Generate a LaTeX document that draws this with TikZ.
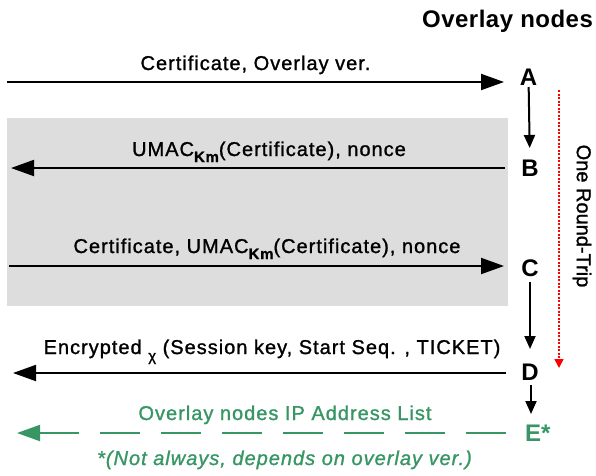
\documentclass[tikz,border=0pt]{standalone}
\usepackage{fontspec}
\setmainfont{Liberation Sans}
\newfontfamily\lblfont{Liberation Sans}[LetterSpace=5,FakeBold=1.2]
\newfontfamily\rtfont{Liberation Sans}[FakeBold=1.2]
\newfontfamily\ttlfont{Liberation Sans Bold}[LetterSpace=2]
\usetikzlibrary{arrows.meta}
\definecolor{ogreen}{RGB}{56,150,100}
\definecolor{ogray}{RGB}{221,221,221}
\begin{document}
\begin{tikzpicture}[x=1pt,y=-1pt,
  lbl/.style={font=\lblfont\fontsize{20}{24}\selectfont, anchor=base, inner sep=0pt},
  letter/.style={font=\fontsize{24}{28}\selectfont\bfseries, inner sep=0pt},
  harrow/.style={line width=2pt, -{Triangle[length=23pt,width=16pt]}},
  garrow/.style={ogreen, line width=2pt, dash pattern=on 40pt off 21pt, -{Triangle[length=23pt,width=16pt]}},
  varrow/.style={line width=2pt, -{Triangle[length=13pt,width=11pt]}},
  rarrow/.style={red, line width=1.6pt, dash pattern=on 2pt off 1.5pt, -{Triangle[length=9pt,width=9pt]}}]
\useasboundingbox (0,0) rectangle (596,475);
% grey band
\fill[ogray] (7,118) rectangle (508,306);
% title
\node[font=\ttlfont\fontsize{24}{28}\selectfont, anchor=base west, inner sep=0pt] (title) at (422,27) {Overlay nodes};
% node letters
\node[letter] (A) at (528.5,77) {A};
\node[letter] (B) at (530,168) {B};
\node[letter] (C) at (530,268) {C};
\node[letter] (D) at (530,372) {D};
\node[letter, text=ogreen, anchor=west] (E) at (525,433) {E*};
% endpoints
\coordinate (a0) at (7,82);   \coordinate (a1) at (504,82);
\coordinate (b0) at (505,168); \coordinate (b1) at (11,168);
\coordinate (c0) at (9,266);  \coordinate (c1) at (504,266);
\coordinate (d0) at (506,373); \coordinate (d1) at (13,373);
\coordinate (e0) at (506,433); \coordinate (e1) at (17,433);
% horizontal messages
\draw[harrow] (a0) -- (a1);
\draw[harrow] (b0) -- (b1);
\draw[harrow] (c0) -- (c1);
\draw[harrow] (d0) -- (d1);
\draw[garrow] (e0) -- (e1);
% labels
\node[lbl] (la) at (255.5,70) {Certificate, Overlay ver.};
\node[lbl] (lb) at (269,156) {UMAC\raisebox{-6pt}{\fontsize{15}{15}\selectfont\bfseries Km}(Certificate), nonce};
\node[lbl] (lc) at (267,253) {Certificate, UMAC\raisebox{-6pt}{\fontsize{15}{15}\selectfont\bfseries Km}(Certificate), nonce};
\node[lbl] (ld) at (272,354) {Encrypted \raisebox{-7pt}{\fontsize{15}{15}\selectfont χ} (Session key, Start Seq. , TICKET)};
\node[lbl, text=ogreen] (le) at (285,420) {Overlay nodes IP Address List};
\node[lbl, text=ogreen, font=\lblfont\fontsize{20}{24}\selectfont\itshape] (note) at (284.5,465) {*(Not always, depends on overlay ver.)};
% vertical arrows
\draw[varrow, shorten <=10pt, shorten >=20pt] (A.center) -- (B.center);
\draw[varrow, shorten <=14pt, shorten >=23pt] (C.center) -- (D.center);
\coordinate (eTop) at (D.center -| 531,0);
\draw[varrow, shorten <=13pt, shorten >=19pt] (eTop) -- (eTop |- E.west);
% round trip
\coordinate (r0) at (559,90); \coordinate (r1) at (559,368);
\draw[rarrow] (r0) -- (r1);
\node[font=\rtfont\fontsize{20}{24}\selectfont, rotate=-90, inner sep=0pt] (rt) at (582,216) {One Round-Trip};
\end{tikzpicture}
\end{document}
